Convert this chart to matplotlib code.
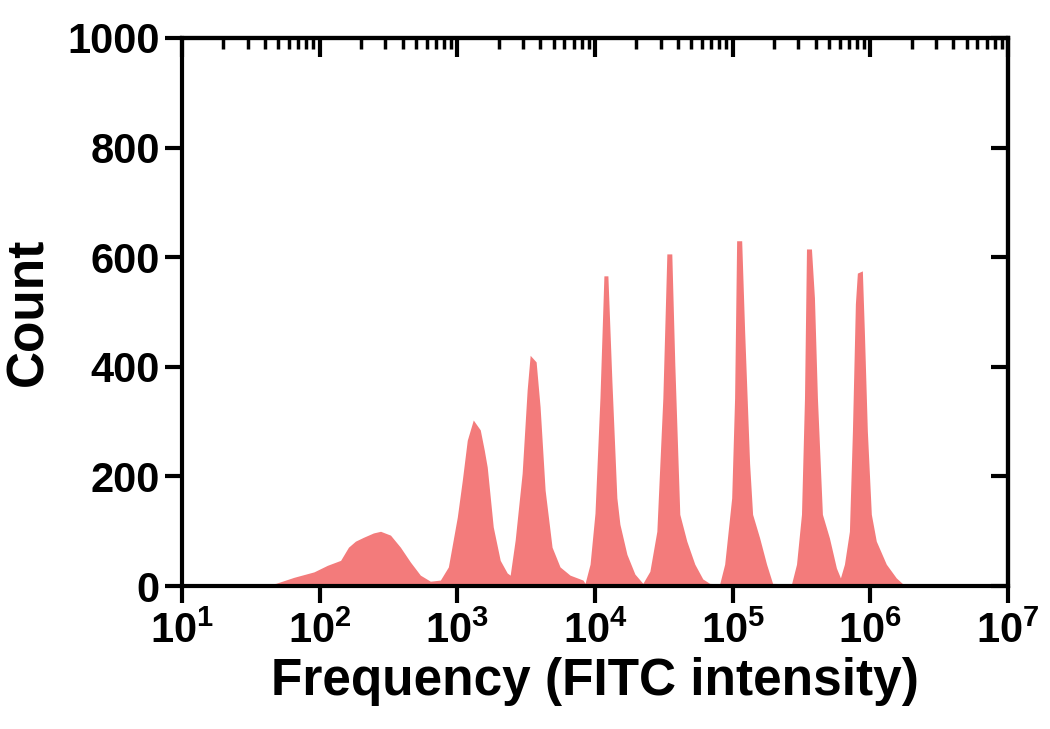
import numpy as np
import matplotlib
matplotlib.use("Agg")
import matplotlib.pyplot as plt
from matplotlib.ticker import FixedLocator, LogLocator, NullFormatter

plt.rcParams['font.family'] = ['Liberation Sans', 'DejaVu Sans']
plt.rcParams['font.weight'] = 'bold'
plt.rcParams['mathtext.fontset'] = 'custom'
plt.rcParams['mathtext.rm'] = 'Liberation Sans:bold'
plt.rcParams['mathtext.bf'] = 'Liberation Sans:bold'
plt.rcParams['mathtext.default'] = 'rm'

# ------------------------------ Daten ------------------------------
# FITC-Intensität (Umriss des Histogramms)
intensity = [32, 48, 65, 91, 114, 142, 162, 182, 208, 246, 277, 327, 386, 456, 539, 637, 753,
             861, 1000, 1087, 1181, 1306, 1468, 1570, 1650, 1824, 2050, 2303, 2421,
             2632, 2958, 3216, 3382, 3737, 3993, 4344, 4879, 5574, 6588, 8185, 8470,
             9210, 10000, 10870, 11610, 12410, 13270, 14420, 15170, 17060, 19490, 22270,
             25040, 28140, 31110, 33270, 36140, 38000, 41310, 46440, 53100, 60720, 68100, 80500,
             87500, 98400, 103300, 106900, 116300, 122200, 132800, 139600, 157000, 176300, 195000, 267700,
             291000, 316200, 332500, 343800, 373500, 392700, 412800, 448700, 504400, 567100, 606600,
             648600, 704900, 741300, 778900, 805100, 875300, 905000, 951300, 1017000, 1105000,
             1306000, 1543000, 1706000, 1918000]
# Anzahl pro Intensität
count = [0, 5, 16, 26, 38, 47, 71, 82, 89, 97, 100, 93, 71, 44, 20, 9, 11,
         35, 126, 193, 266, 303, 285, 248, 217, 108, 47, 24, 20,
         84, 206, 358, 421, 409, 327, 175, 71, 35, 20, 11, 5,
         40, 133, 344, 566, 566, 374, 161, 113, 58, 22, 5,
         27, 100, 343, 606, 606, 405, 131, 82, 40, 13, 5, 4,
         40, 161, 343, 630, 630, 465, 223, 131, 88, 40, 5, 4,
         40, 131, 343, 615, 615, 526, 343, 131, 88, 33, 15,
         40, 100, 283, 515, 571, 575, 465, 283, 131, 82,
         40, 15, 5, 0]

xticks = [1e1, 1e2, 1e3, 1e4, 1e5, 1e6, 1e7]
xtick_labels = [r'$10^{1}$', r'$10^{2}$', r'$10^{3}$', r'$10^{4}$',
                r'$10^{5}$', r'$10^{6}$', r'$10^{7}$']
yticks = [0, 200, 400, 600, 800, 1000]

# ------------------------------ Plot ------------------------------
fig = plt.figure(figsize=(10.5, 7.29), dpi=100)
ax = fig.add_axes([0.1733, 0.196, 0.7867, 0.752])

ax.fill_between(intensity, count, 0, color='#F37B7B', linewidth=0)

ax.set_xscale('log')
ax.set_xlim(1e1, 1e7)
ax.set_ylim(0, 1000)

for s in ax.spines.values():
    s.set_linewidth(3)

ax.xaxis.set_major_locator(FixedLocator(xticks))
ax.set_xticklabels(xtick_labels)
ax.xaxis.set_minor_locator(LogLocator(base=10, subs=np.arange(2, 10)))
ax.xaxis.set_minor_formatter(NullFormatter())
ax.set_yticks(yticks)

ax.tick_params(axis='x', which='major', direction='out', length=12, width=3, labelsize=30, pad=6)
ax.tick_params(axis='x', which='minor', direction='out', length=7, width=2.5)
ax.tick_params(axis='y', which='major', direction='out', length=12, width=3, labelsize=30, pad=4)

# obere und rechte Achse mit Ticks nach innen
top = ax.secondary_xaxis('top')
top.xaxis.set_major_locator(FixedLocator(xticks))
top.xaxis.set_minor_locator(LogLocator(base=10, subs=np.arange(2, 10)))
top.xaxis.set_major_formatter(NullFormatter())
top.xaxis.set_minor_formatter(NullFormatter())
top.tick_params(which='major', direction='in', length=14, width=3)
top.tick_params(which='minor', direction='in', length=8, width=2.5)
top.spines['top'].set_linewidth(3)

right = ax.secondary_yaxis('right')
right.set_yticks(yticks)
right.yaxis.set_major_formatter(NullFormatter())
right.tick_params(which='major', direction='in', length=12, width=3)
right.spines['right'].set_linewidth(3)

ax.set_xlabel('Frequency (FITC intensity)', fontsize=37, fontweight='bold', labelpad=4)
ax.set_ylabel('Count', fontsize=37, fontweight='bold', labelpad=10)

fig.savefig('out.png', dpi=100)
